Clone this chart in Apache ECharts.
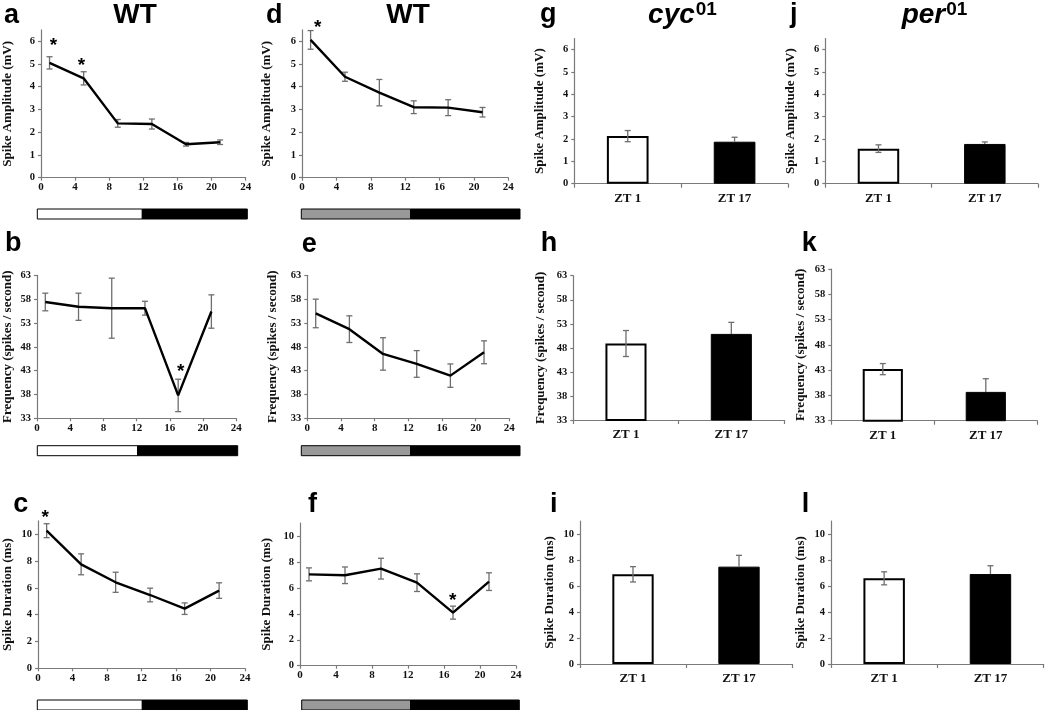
<!DOCTYPE html>
<html><head><meta charset="utf-8">
<script src="https://cdn.jsdelivr.net/npm/echarts@6.0.0/dist/echarts.min.js"></script>
<style>html,body{margin:0;padding:0;background:#fff}#chart{width:1050px;height:710px}</style>
</head><body><div id="chart"></div>
<script>
// ---------- data ----------
const ztHours = [1, 5, 9, 13, 17, 21];
const xTicks = [0, 4, 8, 12, 16, 20, 24];
const ampTicks = [0, 1, 2, 3, 4, 5, 6];
const freqTicks = [33, 38, 43, 48, 53, 58, 63];
const durTicks = [0, 2, 4, 6, 8, 10];
const barCats = ['ZT 1', 'ZT 17'];
const lightPhases = [[0, 12], [12, 24]];

// WT, light/dark (a, b, c)
const ampLD = [5.05, 4.37, 2.39, 2.36, 1.47, 1.56];
const ampLDErr = [0.27, 0.29, 0.17, 0.22, 0.08, 0.10];
const freqLD = [57.4, 56.4, 56.1, 56.1, 37.8, 55.4];
const freqLDErr = [1.85, 2.85, 6.3, 1.45, 3.4, 3.5];
const durLD = [10.27, 7.76, 6.42, 5.47, 4.45, 5.8];
const durLDErr = [0.52, 0.78, 0.75, 0.51, 0.43, 0.58];

// WT, constant dark (d, e, f)
const ampDD = [6.06, 4.44, 3.74, 3.10, 3.08, 2.88];
const ampDDErr = [0.41, 0.20, 0.58, 0.28, 0.35, 0.21];
const freqDD = [55.0, 51.7, 46.5, 44.4, 41.95, 46.85];
const freqDDErr = [3.0, 2.8, 3.4, 2.8, 2.45, 2.4];
const durDD = [7.04, 6.97, 7.48, 6.4, 4.09, 6.48];
const durDDErr = [0.5, 0.64, 0.8, 0.68, 0.5, 0.68];

// cyc01 (g, h, i)
const ampCyc = [2.13, 1.88];
const ampCycErr = [0.25, 0.2];
const freqCyc = [48.9, 50.9];
const freqCycErr = [2.7, 2.4];
const durCyc = [6.9, 7.49];
const durCycErr = [0.59, 0.87];

// per01 (j, k, l)
const ampPer = [1.57, 1.78];
const ampPerErr = [0.17, 0.09];
const freqPer = [43.2, 38.7];
const freqPerErr = [1.1, 2.6];
const durPer = [6.59, 6.92];
const durPerErr = [0.5, 0.64];

// significance markers (data coordinates)
const starsA = [[1.45, 5.98], [4.73, 5.09]];
const starsB = [[17.3, 43.5]];
const starsC = [[0.83, 11.5]];
const starsD = [[1.83, 6.79]];
const starsF = [[16.97, 5.32]];

// ---------- layout ----------
const AMP = 'Spike Amplitude (mV)', FREQ = 'Frequency (spikes / second)', DUR = 'Spike Duration (ms)';
const panels = [
  {kind:'line', box:[39.3, 29.9, 206.4, 147.8], yr:[0, 6.5], yt:ampTicks, name:AMP, gap:27, vals:ampLD, errs:ampLDErr, stars:starsA},
  {kind:'line', box:[34.3, 275.3, 202, 143], yr:[33, 63], yt:freqTicks, name:FREQ, gap:23, vals:freqLD, errs:freqLDErr, stars:starsB},
  {kind:'line', box:[35, 520.9, 210, 147.4], yr:[0, 11], yt:durTicks, name:DUR, gap:24, vals:durLD, errs:durLDErr, stars:starsC},
  {kind:'line', box:[302, 29.9, 206.3, 147.8], yr:[0, 6.5], yt:ampTicks, name:AMP, gap:29, vals:ampDD, errs:ampDDErr, stars:starsD},
  {kind:'line', box:[307.3, 275.3, 202, 143], yr:[33, 63], yt:freqTicks, name:FREQ, gap:28, vals:freqDD, errs:freqDDErr, stars:[]},
  {kind:'line', box:[300, 523, 216, 142.7], yr:[0, 11], yt:durTicks, name:DUR, gap:27, vals:durDD, errs:durDDErr, stars:starsF},
  {kind:'bar', box:[574.3, 38.5, 213.7, 145.2], yr:[0, 6.5], yt:ampTicks, name:AMP, gap:28, vals:ampCyc, errs:ampCycErr},
  {kind:'bar', box:[573.3, 275.7, 210.7, 144.3], yr:[33, 63], yt:freqTicks, name:FREQ, gap:26, vals:freqCyc, errs:freqCycErr},
  {kind:'bar', box:[580, 521, 212, 143], yr:[0, 11], yt:durTicks, name:DUR, gap:24, vals:durCyc, errs:durCycErr},
  {kind:'bar', box:[825.3, 38.5, 212.7, 145.2], yr:[0, 6.5], yt:ampTicks, name:AMP, gap:28, vals:ampPer, errs:ampPerErr},
  {kind:'bar', box:[831.3, 269, 206, 151.7], yr:[33, 63], yt:freqTicks, name:FREQ, gap:24, vals:freqPer, errs:freqPerErr},
  {kind:'bar', box:[831, 521, 212.6, 143], yr:[0, 11], yt:durTicks, name:DUR, gap:24, vals:durPer, errs:durPerErr}
];
const lightBars = [
  {fill:['#ffffff', '#000000'], box:[37.3, 209, 210, 10]},
  {fill:['#ffffff', '#000000'], box:[37.3, 445.7, 200.4, 10]},
  {fill:['#ffffff', '#000000'], box:[37.3, 700, 210, 10]},
  {fill:['#999999', '#000000'], box:[301.3, 209, 218.7, 10]},
  {fill:['#999999', '#000000'], box:[301.3, 445.7, 218.7, 10]},
  {fill:['#999999', '#000000'], box:[301.7, 700, 217.6, 10]}
];

// ---------- styles ----------
const SERIF = '"Liberation Serif","Times New Roman",serif';
const SANS = '"Liberation Sans",Arial,Helvetica,sans-serif';
const axisLineStyle = {color:'#7a7a7a', width:1.2};
const errColor = '#6e6e6e';

function errRender(params, api) {
  const x = api.value(0), v = api.value(1), e = api.value(2), lowerOn = api.value(3);
  const top = api.coord([x, v + e]);
  const bot = api.coord([x, lowerOn ? v - e : v]);
  const st = {stroke: errColor, lineWidth: 1.3};
  const ch = [
    {type:'line', shape:{x1:top[0], y1:top[1], x2:bot[0], y2:bot[1]}, style:st},
    {type:'line', shape:{x1:top[0]-3, y1:top[1], x2:top[0]+3, y2:top[1]}, style:st}
  ];
  if (lowerOn) ch.push({type:'line', shape:{x1:bot[0]-3, y1:bot[1], x2:bot[0]+3, y2:bot[1]}, style:st});
  return {type:'group', children:ch};
}
function starRender(params, api) {
  const p = api.coord([api.value(0), api.value(1)]);
  return {type:'text', x:p[0], y:p[1] + 4,
    style:{text:'*', font:'bold 19px ' + SANS, fill:'#000', align:'center', verticalAlign:'middle'}};
}
function phaseRender(fills) {
  return function (params, api) {
    const a = api.coord([api.value(0), 1]);
    const b = api.coord([api.value(1), 0]);
    return {type:'rect', shape:{x:a[0], y:a[1], width:b[0]-a[0], height:b[1]-a[1]},
      style:{fill: fills[params.dataIndex], stroke:'#000', lineWidth:1}};
  };
}

const option = {animation:false, backgroundColor:'#fff', grid:[], xAxis:[], yAxis:[], series:[], graphic:[]};

panels.forEach((p, i) => {
  option.grid.push({left:p.box[0], top:p.box[1], width:p.box[2], height:p.box[3]});
  const commonLabel = {fontFamily:SERIF, fontWeight:'bold', color:'#111'};
  if (p.kind === 'line') {
    option.xAxis.push({type:'value', gridIndex:i, min:0, max:24, interval:4,
      axisLine:{show:true, lineStyle:axisLineStyle},
      axisTick:{show:true, length:3, lineStyle:axisLineStyle},
      axisLabel:Object.assign({fontSize:11, margin:4}, commonLabel),
      splitLine:{show:false}});
  } else {
    option.xAxis.push({type:'category', gridIndex:i, data:barCats,
      axisLine:{show:true, lineStyle:axisLineStyle},
      axisTick:{show:true, length:4, lineStyle:axisLineStyle},
      axisLabel:Object.assign({fontSize:13, margin:8}, commonLabel),
      splitLine:{show:false}});
  }
  option.yAxis.push({type:'value', gridIndex:i, min:p.yr[0], max:p.yr[1],
    name:p.name, nameLocation:'middle', nameGap:p.gap,
    nameTextStyle:{fontFamily:SERIF, fontWeight:'bold', fontSize:13, color:'#111'},
    axisLine:{show:true, lineStyle:axisLineStyle},
    axisTick:{show:true, length:3, customValues:p.yt, lineStyle:axisLineStyle},
    axisLabel:Object.assign({fontSize:10.5, margin:6, customValues:p.yt}, commonLabel),
    splitLine:{show:false}});

  if (p.kind === 'line') {
    option.series.push({type:'custom', xAxisIndex:i, yAxisIndex:i, renderItem:errRender, z:2,
      encode:{x:0, y:1}, data: ztHours.map((h, j) => [h, p.vals[j], p.errs[j], 1])});
    option.series.push({type:'line', xAxisIndex:i, yAxisIndex:i, symbol:'none', z:3,
      lineStyle:{color:'#000', width:2.4}, data: ztHours.map((h, j) => [h, p.vals[j]])});
    if (p.stars.length) option.series.push({type:'custom', xAxisIndex:i, yAxisIndex:i, renderItem:starRender, z:4,
      clip:false, encode:{x:0, y:1}, data:p.stars});
  } else {
    option.series.push({type:'bar', xAxisIndex:i, yAxisIndex:i, barWidth:'39%', z:2,
      data: p.vals.map((v, j) => ({value:v, itemStyle: j === 0
        ? {color:'#fff', borderColor:'#000', borderWidth:2}
        : {color:'#000', borderColor:'#000', borderWidth:1}}))});
    option.series.push({type:'custom', xAxisIndex:i, yAxisIndex:i, renderItem:errRender, z:3,
      encode:{x:0, y:1}, data: p.vals.map((v, j) => [j, v, p.errs[j], j === 0 ? 1 : 0])});
  }
});

lightBars.forEach((lb) => {
  const gi = option.grid.length;
  option.grid.push({left:lb.box[0], top:lb.box[1], width:lb.box[2], height:lb.box[3]});
  option.xAxis.push({type:'value', gridIndex:gi, min:0, max:24, show:false});
  option.yAxis.push({type:'value', gridIndex:gi, min:0, max:1, show:false});
  option.series.push({type:'custom', xAxisIndex:gi, yAxisIndex:gi, renderItem:phaseRender(lb.fill),
    encode:{x:[0, 1]}, data:lightPhases});
});

// panel letters (x = left, y = baseline) and titles
const LETTER_FS = 27;
const letters = [
  ['a', 4, 24], ['d', 266, 24], ['g', 540, 23], ['j', 790, 23],
  ['b', 5, 251.7], ['e', 301.7, 252.7], ['h', 540.7, 251.7], ['k', 801.7, 251.7],
  ['c', 13.3, 513.3], ['f', 308, 513.3], ['i', 550, 513.3], ['l', 801.7, 513.3]
];
letters.forEach(([t, x, y]) => option.graphic.push({type:'text', x:x, y:y - 0.81 * LETTER_FS,
  style:{text:t, font:'bold ' + LETTER_FS + 'px ' + SANS, fill:'#000', align:'left', verticalAlign:'top'}}));

const TITLE_FS = 28, SUP_FS = 19;
const titles = [
  {main:'WT', sup:'', italic:false, cx:135},
  {main:'WT', sup:'', italic:false, cx:408},
  {main:'cyc', sup:'01', italic:true, cx:682},
  {main:'per', sup:'01', italic:true, cx:934}
];
const measureCtx = document.createElement('canvas').getContext('2d');
titles.forEach(t => {
  const mainFont = (t.italic ? 'italic ' : '') + 'bold ' + TITLE_FS + 'px ' + SANS;
  const supFont = 'bold ' + SUP_FS + 'px ' + SANS;
  measureCtx.font = mainFont; const wm = measureCtx.measureText(t.main).width;
  measureCtx.font = supFont; const ws = t.sup ? measureCtx.measureText(t.sup).width : 0;
  const x0 = t.cx - (wm + ws) / 2;
  option.graphic.push({type:'text', x:x0, y:24 - 0.81 * TITLE_FS,
    style:{text:t.main, font:mainFont, fill:'#000', align:'left', verticalAlign:'top'}});
  if (t.sup) option.graphic.push({type:'text', x:x0 + wm + 1, y:0,
    style:{text:t.sup, font:supFont, fill:'#000', align:'left', verticalAlign:'top'}});
});

const chart = echarts.init(document.getElementById('chart'), null, {renderer:'canvas'});
chart.setOption(option);
</script></body></html>
